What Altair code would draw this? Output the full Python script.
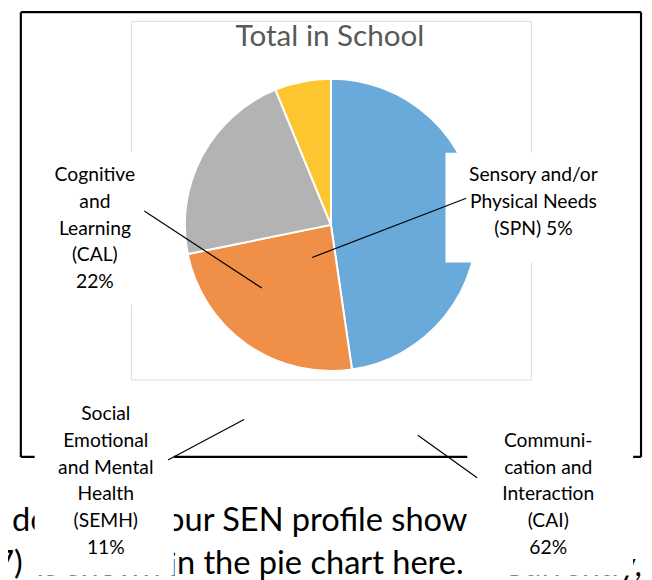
import altair as alt
import pandas as pd

# ---------------- data ----------------
categories = ["Communication and Interaction", "Cognitive and Learning",
              "Social Emotional and Mental Health", "Sensory and/or Physical Needs"]
shares = [47.7, 24.1, 22.0, 6.2]
slice_colors = ["#6aaadb", "#ef8f48", "#b3b3b3", "#fdc52f"]

title_text = "Total in School"
cal_lines = ["Cognitive", "and", "Learning", "(CAL)", "22%"]
spn_lines = ["Sensory and/or", "Physical Needs", "(SPN) 5%"]
semh_lines = ["Social", "Emotional", "and Mental", "Health", "(SEMH)", "11%"]
cai_lines = ["Communi-", "cation and", "Interaction", "(CAI)", "62%"]

body_line1_pieces = ["does y", "our SEN profile show"]
body_line2_visible = ["(2017)", "n the pie chart here."]
body_line2_hidden = ["is shown i", "Currently,"]

# ---------------- layout (page pixels) ----------------
W, H = 644, 572
SX = alt.Scale(domain=[8, 8 + W], nice=False, zero=False)
SY = alt.Scale(domain=[8 + H, 8], nice=False, zero=False)
LH = 27
FONT = "Lato"
BODY_SIZE = 33


def X(f="x"):
    return alt.X(f + ":Q", scale=SX, axis=None)


def Y(f="y"):
    return alt.Y(f + ":Q", scale=SY, axis=None)


def label_rows(lines, cx, first_baseline):
    return [{"x": cx, "y": first_baseline + i * LH, "text": t} for i, t in enumerate(lines)]


def text_layer(df, size, align, color="black"):
    return alt.Chart(df).mark_text(
        font=FONT, fontSize=size, color=color, align=align, baseline="alphabetic"
    ).encode(x=X(), y=Y(), text="text:N")


# chart area border
area = pd.DataFrame([{"x": 133, "x2": 538, "y": 18, "y2": 381}])
area_layer = alt.Chart(area).mark_rect(fill="white", stroke="#dcdcdc", strokeWidth=1).encode(
    x=X(), x2="x2:Q", y=Y(), y2="y2:Q")

# title
title_layer = text_layer(pd.DataFrame([{"x": 334, "y": 43, "text": title_text}]), 30, "center", "#595959")

# pie
pie_df = pd.DataFrame({"category": categories, "share": shares, "order": range(len(categories))})
pie_layer = alt.Chart(pie_df).mark_arc(radius=148, stroke="white", strokeWidth=2).encode(
    theta=alt.Theta("share:Q", stack=True),
    color=alt.Color("category:N", scale=alt.Scale(domain=categories, range=slice_colors), legend=None),
    order=alt.Order("order:Q"),
    x=alt.value(335 - 8),
    y=alt.value(224 - 8),
)

# black frame
frame = pd.DataFrame([
    {"x": 21, "y": 8.6, "x2": 21, "y2": 459},
    {"x": 21, "y": 8.6, "x2": 649, "y2": 8.6},
    {"x": 649, "y": 8.6, "x2": 649, "y2": 459},
    {"x": 21, "y": 459, "x2": 649, "y2": 459},
])
frame_layer = alt.Chart(frame).mark_rule(color="black", strokeWidth=2.2).encode(
    x=X(), y=Y(), x2="x2:Q", y2="y2:Q")

# body text behind the label boxes
body_left = pd.DataFrame([
    {"x": 12, "y": 534, "text": body_line1_pieces[0]},
    {"x": 168, "y": 534, "text": body_line1_pieces[1]},
    {"x": 179, "y": 578, "text": body_line2_visible[1]},
    {"x": 508, "y": 580, "text": body_line2_hidden[1]},
])
body_right = pd.DataFrame([
    {"x": 23, "y": 578, "text": body_line2_visible[0]},
    {"x": 179, "y": 580, "text": body_line2_hidden[0]},
])
body_l_layer = text_layer(body_left, BODY_SIZE, "left")
body_r_layer = text_layer(body_right, BODY_SIZE, "right")

# white label boxes
boxes = pd.DataFrame([
    {"x": 28, "x2": 145, "y": 150, "y2": 305},
    {"x": 451, "x2": 645, "y": 151, "y2": 262},
    {"x": 35, "x2": 176, "y": 396, "y2": 579},
    {"x": 473, "x2": 641, "y": 420, "y2": 579},
])
box_layer = alt.Chart(boxes).mark_rect(fill="white", stroke=None).encode(
    x=X(), x2="x2:Q", y=Y(), y2="y2:Q")

# leader lines
leaders = pd.DataFrame([
    {"x": 146, "y": 210, "x2": 265, "y2": 288},
    {"x": 472, "y": 197, "x2": 316, "y2": 257},
    {"x": 170, "y": 462, "x2": 247, "y2": 421},
    {"x": 423, "y": 437, "x2": 483, "y2": 480},
])
leader_layer = alt.Chart(leaders).mark_rule(color="black", strokeWidth=1.2).encode(
    x=X(), y=Y(), x2="x2:Q", y2="y2:Q")

# labels
labels = pd.DataFrame(
    label_rows(cal_lines, 96, 180)
    + label_rows(spn_lines, 540, 180)
    + label_rows(semh_lines, 107, 422)
    + label_rows(cai_lines, 555, 449)
)
label_layer = text_layer(labels, 19.5, "center")

chart = alt.layer(
    area_layer, title_layer, pie_layer, frame_layer, body_l_layer, body_r_layer,
    box_layer, leader_layer, label_layer
).properties(
    width=W, height=H, padding=0, autosize=alt.AutoSizeParams(type="none"),
    background="white"
).configure_view(stroke=None)

chart.save("out.html", embed_options={"renderer": "svg", "actions": False})
